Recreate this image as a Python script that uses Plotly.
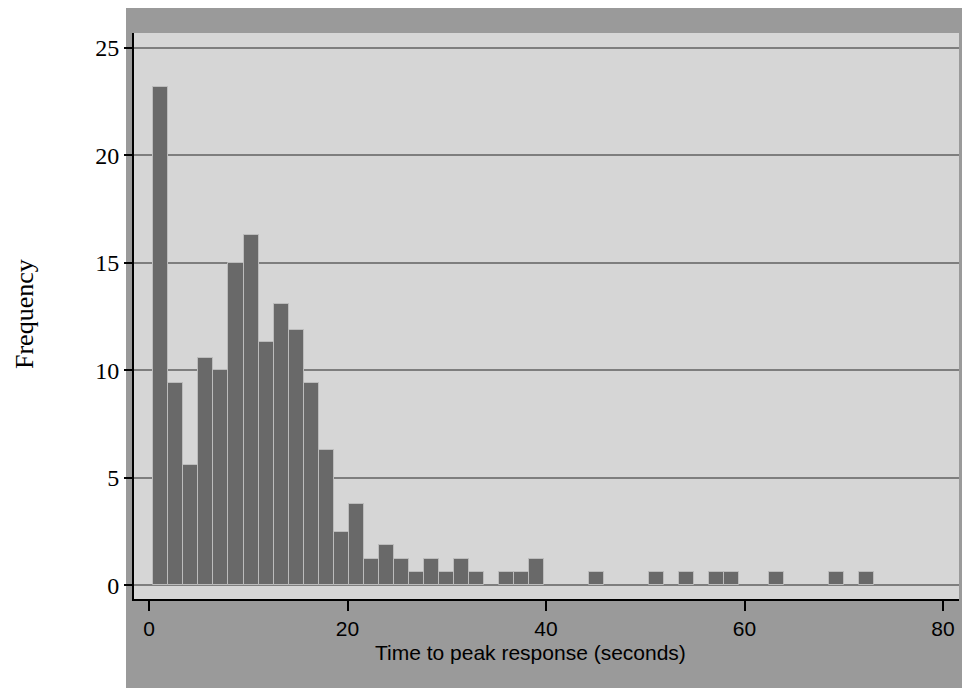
import plotly.graph_objects as go

# ---- data ----
bin_start = 0.45          # left edge of first bin (seconds)
bin_width = 1.512         # bin width (seconds)
frequency = [23.2, 9.4, 5.6, 10.6, 10.0, 15.0, 16.3, 11.3, 13.1, 11.9,
             9.4, 6.3, 2.5, 3.8, 1.25, 1.9, 1.25, 0.63, 1.25, 0.63,
             1.25, 0.63, 0, 0.63, 0.63, 1.25, 0, 0, 0, 0.63,
             0, 0, 0, 0.63, 0, 0.63, 0, 0.63, 0.63, 0,
             0, 0.63, 0, 0, 0, 0.63, 0, 0.63]
x_ticks = [0, 20, 40, 60, 80]
y_ticks = [0, 5, 10, 15, 20, 25]
x_title = "Time to peak response (seconds)"
y_title = "Frequency"

centers = [bin_start + (i + 0.5) * bin_width for i in range(len(frequency))]
xs = [c for c, f in zip(centers, frequency) if f > 0]
ys = [f for f in frequency if f > 0]

OFF = 8  # default page body margin
W, H = 970 - OFF, 688 - OFF
L, T = 134 - OFF, 33 - OFF
pw, ph = 825, 566
R, B = W - L - pw, H - T - ph

def px_x(x):
    return (x - OFF - L) / pw

def px_y(y):
    return (T + ph - (y - OFF)) / ph

fig = go.Figure()
fig.add_trace(go.Bar(
    x=xs, y=ys, width=bin_width,
    marker=dict(color="#696969", line=dict(color="#bcbcbc", width=1)),
    hoverinfo="x+y",
))

shapes = [
    dict(type="rect", xref="paper", yref="paper", layer="below",
         x0=px_x(126), x1=px_x(980), y0=px_y(8), y1=px_y(700),
         fillcolor="#9a9a9a", line=dict(width=0)),
    dict(type="rect", xref="paper", yref="paper", layer="below",
         x0=0, x1=1, y0=0, y1=1,
         fillcolor="#d6d6d6", line=dict(width=0)),
]

fig.update_layout(
    width=W, height=H,
    margin=dict(l=L, r=R, t=T, b=B, pad=0),
    paper_bgcolor="white",
    plot_bgcolor="rgba(0,0,0,0)",
    showlegend=False,
    bargap=0,
    shapes=shapes,
    annotations=[
        dict(text=x_title, xref="paper", yref="paper",
             x=px_x(530.5), y=px_y(652), xanchor="center", yanchor="middle",
             showarrow=False,
             font=dict(family="Liberation Sans, Arial", size=21, color="black")),
        dict(text=y_title, xref="paper", yref="paper", textangle=-90,
             x=px_x(24), y=px_y(314), xanchor="center", yanchor="middle",
             showarrow=False,
             font=dict(family="Liberation Serif, Times New Roman", size=26, color="black")),
    ],
)

fig.update_xaxes(
    range=[-1.51, 81.61], tickvals=x_ticks, ticktext=[str(v) for v in x_ticks],
    showgrid=False, zeroline=False,
    showline=True, linecolor="black", linewidth=2,
    ticks="outside", ticklen=10, tickwidth=2, tickcolor="black",
    tickfont=dict(family="Liberation Sans, Arial", size=21, color="black"),
)
fig.update_yaxes(
    range=[-0.63, 25.69], tickvals=y_ticks, ticktext=[str(v) for v in y_ticks],
    showgrid=True, gridcolor="#7e7e7e", gridwidth=1.5, zeroline=False,
    showline=True, linecolor="black", linewidth=2,
    ticks="outside", ticklen=8, tickwidth=2, tickcolor="black",
    tickfont=dict(family="Liberation Serif, Times New Roman", size=24, color="black"),
)

fig.write_html("out.html")
